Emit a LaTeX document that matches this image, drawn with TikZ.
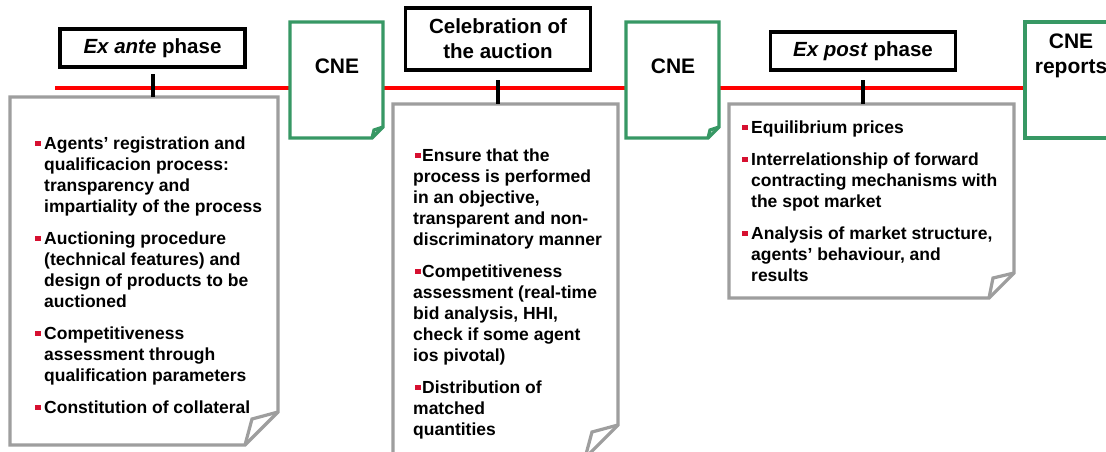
\documentclass[tikz,border=0pt]{standalone}
\usepackage{fontspec}
\setmainfont{Liberation Sans}
\definecolor{cnegreen}{RGB}{55,152,100}
\definecolor{notegray}{RGB}{158,158,158}
\definecolor{bulred}{RGB}{214,16,48}
\newcommand{\hbul}{\makebox[0pt][r]{\textcolor{bulred}{\rule[3pt]{5.5pt}{5.5pt}}\hspace{3.5pt}}}
\newcommand{\ibul}{\hspace{2pt}\textcolor{bulred}{\rule[3pt]{5.5pt}{5.5pt}}\hspace{1.5pt}}
\newcommand{\notefont}{\bfseries\fontsize{17.5}{21}\selectfont\setlength{\parskip}{11pt}\raggedright}
\begin{document}
\begin{tikzpicture}[x=1pt,y=-1pt,
  bg/.style={draw=none,fill=white,inner sep=0,outer sep=0},
  cneline/.style={draw=cnegreen,line width=3.2pt,line join=miter},
  noteline/.style={draw=notegray,line width=3.2pt,line join=miter},
  phasebox/.style={draw=black,fill=white,line width=3.2pt,inner sep=0,outer sep=0,
    minimum width=185pt,minimum height=38pt,font=\bfseries\fontsize{20.5}{25}\selectfont,align=center},
  cnetext/.style={anchor=base,inner sep=0,font=\bfseries\fontsize{21}{25}\selectfont,align=center},
  notetext/.style={anchor=base west,inner sep=0},
  redline/.style={draw=red,line width=3.2pt},
  tickline/.style={draw=black,line width=3.2pt}]
\useasboundingbox (0,0) rectangle (1106,451);
\clip (0,0) rectangle (1106,451);
\fill[white] (0,0) rectangle (1106,451);

% timeline
\coordinate (lstart) at (55,88);
\node[bg,minimum width=93pt,minimum height=116pt] (c3) at (1071.5,80) {};
\draw[redline] (lstart) -- (lstart -| c3.west);

% CNE documents
\node[bg,minimum width=93pt,minimum height=116pt] (c1) at (336.5,80) {};
\node[bg,minimum width=93pt,minimum height=116pt] (c2) at (672.5,80) {};
\foreach \c in {c1,c2}{
  \draw[cneline] (\c.north west) -- (\c.north east) -- ([yshift=11pt]\c.south east)
    -- ([xshift=-11pt]\c.south east) -- (\c.south west) -- cycle;
  \draw[cneline] ([yshift=11pt]\c.south east) -- ([xshift=-9pt,yshift=8pt]\c.south east)
    -- ([xshift=-11pt]\c.south east);
}
\draw[cneline] (c3.north east) -- (c3.north west) -- (c3.south west) -- (c3.south east);
\node[cnetext] (cne1) at (337,73) {CNE};
\node[cnetext] (cne2) at (673,73) {CNE};
\node[cnetext] (cne3) at (1071,73) {CNE\\reports};

% phase boxes
\node[phasebox] (exante) at (152.5,48) {\textit{Ex ante} phase};
\node[phasebox,minimum height=62pt] (celeb) at (498,39) {Celebration of\\the auction};
\node[phasebox] (expost) at (863,51) {\textit{Ex post} phase};

% note boxes
\node[bg,minimum width=268pt,minimum height=348pt] (n1) at (144,271) {};
\node[bg,minimum width=225pt,minimum height=354pt] (n2) at (505.5,281) {};
\node[bg,minimum width=285pt,minimum height=194pt] (n3) at (871.5,201) {};
\foreach \n/\f/\g/\h in {n1/33/26/26,n2/33/26/26,n3/25/21/20}{
  \draw[noteline] (\n.north west) -- (\n.north east) -- ([yshift=\f pt]\n.south east)
    -- ([xshift=-\f pt]\n.south east) -- (\n.south west) -- cycle;
  \draw[noteline] ([yshift=\f pt]\n.south east) -- ([xshift=-\g pt,yshift=\h pt]\n.south east)
    -- ([xshift=-\f pt]\n.south east);
}

% ticks
\coordinate (k1) at (153,74);
\coordinate (k2) at (498,80);
\coordinate (k3) at (863,80);
\draw[tickline] (k1) -- (k1 |- n1.north);
\draw[tickline] (k2) -- (k2 |- n2.north);
\draw[tickline] (k3) -- (k3 |- n3.north);

% texts
\node[notetext] (t1) at (44,149) {\parbox[t]{250pt}{\notefont
\hbul Agents’ registration and\\ qualificacion process:\\ transparency and\\ impartiality of the process\par
\hbul Auctioning procedure\\ (technical features) and\\ design of products to be\\ auctioned\par
\hbul Competitiveness\\ assessment through\\ qualification parameters\par
\hbul Constitution of collateral}};
\node[notetext] (t2) at (413,161) {\parbox[t]{220pt}{\notefont
\ibul Ensure that the\\ process is performed\\ in an objective,\\ transparent and non-\\ discriminatory manner\par
\ibul Competitiveness\\ assessment (real-time\\ bid analysis, HHI,\\ check if some agent\\ ios pivotal)\par
\ibul Distribution of\\ matched\\ quantities}};
\node[notetext] (t3) at (751,133) {\parbox[t]{270pt}{\notefont
\hbul Equilibrium prices\par
\hbul Interrelationship of forward\\ contracting mechanisms with\\ the spot market\par
\hbul Analysis of market structure,\\ agents’ behaviour, and\\ results}};
\end{tikzpicture}
\end{document}
